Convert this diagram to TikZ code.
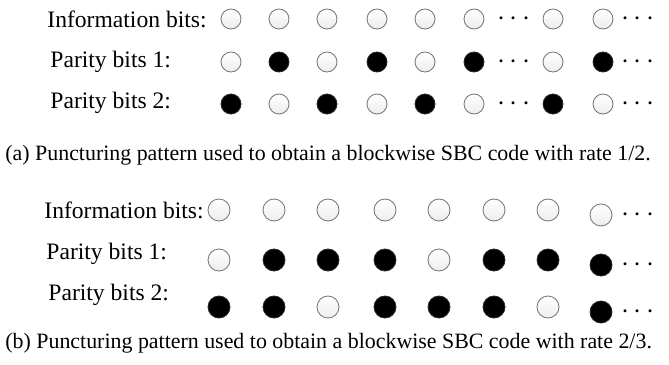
\documentclass[tikz,border=0pt]{standalone}
\usepackage{fontspec}
\setmainfont{Liberation Serif}
\usetikzlibrary{positioning}

\begin{document}
\begin{tikzpicture}[x=0.5pt,y=-0.5pt,
    bitoff/.style={circle,draw=black!55,line width=0.4pt,top color=white,bottom color=black!7,inner sep=0pt},
    biton/.style={circle,draw=black!85,fill=black,line width=0.4pt,inner sep=0pt},
    smallbit/.style={minimum size=10pt},
    bigbit/.style={minimum size=11pt},
    rowlabel/.style={anchor=west,inner sep=0pt,font=\fontsize{11.8}{14}\selectfont},
    moredots/.style={inner sep=0pt,font=\fontsize{15}{16}\selectfont},
    subcap/.style={anchor=west,inner sep=0pt,font=\fontsize{10.95}{13}\selectfont}]
    \useasboundingbox[fill=white] (0,0) rectangle (669,364);

    % (a) rate 1/2
    \node[rowlabel] (infoA) at (47,19) {Information bits:};
    \node[rowlabel] (parAone) at (50,62) {Parity bits 1:};
    \node[rowlabel] (parAtwo) at (50,103) {Parity bits 2:};
    \foreach \x/\s [count=\i] in {231/bitoff,279/bitoff,327/bitoff,377/bitoff,425/bitoff,474/bitoff,553/bitoff,603/bitoff}
        \node[\s,smallbit] (a1-\i) at (\x,19) {};
    \foreach \x/\s [count=\i] in {231/bitoff,279/biton,327/bitoff,377/biton,425/bitoff,474/biton,553/bitoff,603/biton}
        \node[\s,smallbit] (a2-\i) at (\x,62) {};
    \foreach \x/\s [count=\i] in {231/biton,279/bitoff,327/biton,377/bitoff,425/biton,474/bitoff,553/biton,603/bitoff}
        \node[\s,smallbit] (a3-\i) at (\x,104) {};
    \foreach \r/\y in {1/19,2/62,3/104} {
        \node[moredots] (a\r-dm) at (514,\y) {$\cdots$};
        \node[moredots] (a\r-de) at (638,\y) {$\cdots$};
    }
    \node[subcap] (capA) at (5,155) {(a) Puncturing pattern used to obtain a blockwise SBC code with rate 1/2.};

    % (b) rate 2/3
    \node[rowlabel] (infoB) at (44,210) {Information bits:};
    \node[rowlabel] (parBone) at (46,254) {Parity bits 1:};
    \node[rowlabel] (parBtwo) at (48,295) {Parity bits 2:};
    \foreach \x/\s/\d [count=\i] in {219/bitoff/0,274/bitoff/0,328/bitoff/0,385/bitoff/0,439/bitoff/0,494/bitoff/0,548/bitoff/0,601/bitoff/5}
        \node[\s,bigbit] (b1-\i) at (\x,210+\d) {};
    \foreach \x/\s/\d [count=\i] in {219/bitoff/0,274/biton/0,328/biton/0,385/biton/0,439/bitoff/0,494/biton/0,548/biton/0,601/biton/5}
        \node[\s,bigbit] (b2-\i) at (\x,260+\d) {};
    \foreach \x/\s/\d [count=\i] in {219/biton/0,274/biton/0,328/bitoff/0,385/biton/0,439/biton/0,494/biton/0,548/bitoff/0,601/biton/5}
        \node[\s,bigbit] (b3-\i) at (\x,307+\d) {};
    \foreach \r/\y in {1/215,2/265,3/312}
        \node[moredots] (b\r-de) at (638,\y) {$\cdots$};
    \node[subcap] (capB) at (5,343) {(b) Puncturing pattern used to obtain a blockwise SBC code with rate 2/3.};
\end{tikzpicture}
\end{document}
